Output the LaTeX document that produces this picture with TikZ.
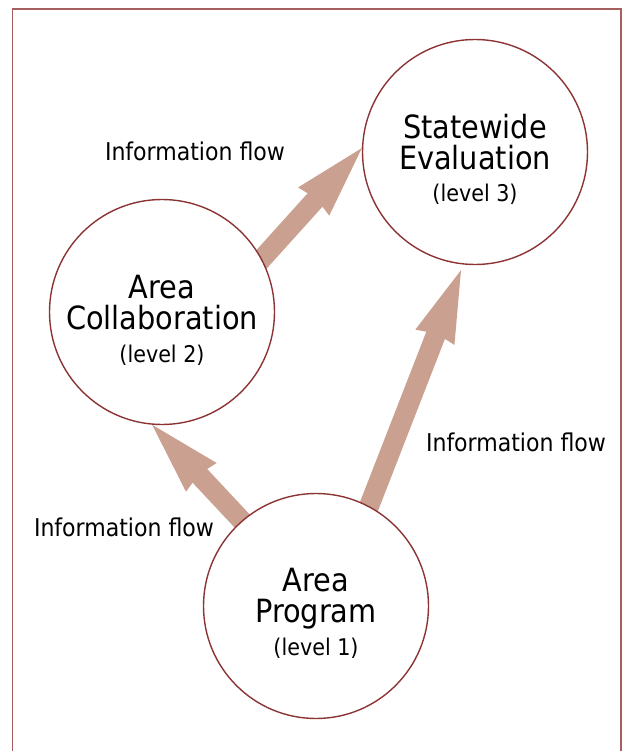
\documentclass[tikz,border=0pt]{standalone}
\usepackage{fontspec}
\setmainfont{DejaVu Sans Condensed}
\usetikzlibrary{arrows.meta,calc}
\pgfdeclarelayer{back}
\pgfsetlayers{back,main}
\definecolor{ringred}{RGB}{140,52,52}
\definecolor{framered}{RGB}{165,95,95}
\definecolor{flowtan}{RGB}{202,160,145}
\tikzset{
  stage/.style={circle,draw=ringred,line width=1.4pt,fill=white,
    minimum size=225pt,inner sep=0pt},
  flow/.style={draw=flowtan,line width=20pt,shorten <=-10pt,
    -{Stealth[length=72pt,width=42pt,inset=4pt,line width=0pt]}},
  bigtext/.style={anchor=base,inner sep=0pt,font=\fontsize{32}{32}\selectfont},
  leveltext/.style={anchor=base,inner sep=0pt,font=\fontsize{23}{23}\selectfont},
  flowtext/.style={anchor=base,inner sep=0pt,font=\fontsize{24.5}{24.5}\selectfont},
}
\begin{document}
\begin{tikzpicture}[x=1pt,y=-1pt]
  \useasboundingbox (0,0) rectangle (626,751);
  % open frame, running off the bottom edge
  \draw[framered,line width=1.3pt] (12.5,751) -- (12.5,9) -- (621,9) -- (621,751);

  % the three levels
  \node[stage] (state) at (475,152) {};
  \node[stage] (collab) at (162,312) {};
  \node[stage] (prog) at (316,606) {};

  \node[bigtext] (stateA) at ($(state.center)+(0,-13)$) {Statewide};
  \node[bigtext] (stateB) at ($(state.center)+(0,18)$) {Evaluation};
  \node[leveltext] (stateC) at ($(state.center)+(0,50)$) {(level 3)};

  \node[bigtext] (collabA) at ($(collab.center)+(0,-14)$) {Area};
  \node[bigtext] (collabB) at ($(collab.center)+(0,17)$) {Collaboration};
  \node[leveltext] (collabC) at ($(collab.center)+(0,50)$) {(level 2)};

  \node[bigtext] (progA) at ($(prog.center)+(0,-15)$) {Area};
  \node[bigtext] (progB) at ($(prog.center)+(0,16)$) {Program};
  \node[leveltext] (progC) at ($(prog.center)+(0,49)$) {(level 1)};

  % flow labels
  \node[flowtext] (flowA) at (195,161) {Information flow};
  \node[flowtext] (flowB) at (516,451) {Information flow};
  \node[flowtext] (flowC) at (124,536) {Information flow};

  % information flow arrows, kept behind the circles
  \begin{pgfonlayer}{back}
    \draw[flow] (collab.28) -- (state.178);
    \draw[flow] (prog.131) -- (collab.265);
    \draw[flow,shorten >=6pt] (prog.62) -- (state.264);
  \end{pgfonlayer}
\end{tikzpicture}
\end{document}
